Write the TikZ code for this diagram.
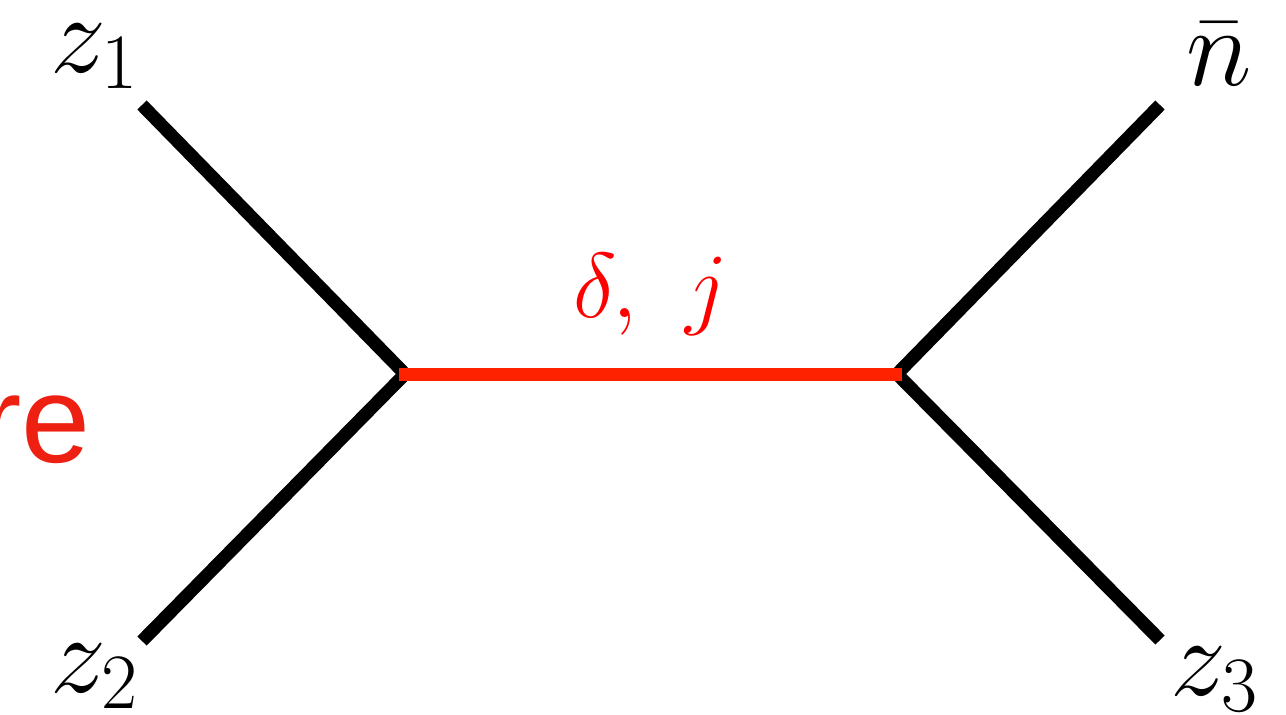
\RequirePackage{fix-cm}
\documentclass[tikz,border=0pt]{standalone}
\usepackage{fontspec}
\newfontfamily\sansfont{Liberation Sans}
\definecolor{edgered}{RGB}{255,34,0}
\definecolor{labelred}{RGB}{255,0,0}
\definecolor{textred}{RGB}{237,32,18}
\begin{document}
\begin{tikzpicture}[x=0.5pt,y=-0.5pt,
  leg/.style={line width=6.5pt,black,line cap=butt},
  prop/.style={line width=6.5pt,edgered,line cap=butt},
  biglab/.style={inner sep=0pt,font=\fontsize{56}{60}\selectfont},
  redlab/.style={inner sep=0pt,text=labelred,font=\fontsize{46}{50}\selectfont},
  sidetext/.style={inner sep=0pt,text=textred,font=\sansfont\fontsize{62}{70}\selectfont}]
\useasboundingbox (0,0) rectangle (1286,714);
\clip (0,0) rectangle (1286,714);
\coordinate (vl) at (405,374);
\coordinate (vr) at (897,374);
\coordinate (e1) at (142,105);
\coordinate (e2) at (142,641);
\coordinate (en) at (1160,105);
\coordinate (e3) at (1160,640);
\draw[leg] (e1) -- (vl) -- (e2);
\draw[leg] (en) -- (vr) -- (e3);
\path (vl) ++(-6,0) coordinate (pl) (vr) ++(5,0) coordinate (pr);
\draw[prop] (pl) -- (pr);
\node[biglab,anchor=base west] (z1) at (50,72) {$z_1$};
\node[biglab,anchor=base west] (z2) at (50,692) {$z_2$};
\node[biglab,anchor=base west] (nb) at (1186,85) {$\bar{n}$};
\node[biglab,anchor=base west] (z3) at (1170,695) {$z_3$};
\node[redlab,anchor=base] (dj) at (651,317) {$\delta,\hspace{0.36em}j$};
\node[sidetext,anchor=base east] (re) at (91,462) {re};
\end{tikzpicture}
\end{document}
